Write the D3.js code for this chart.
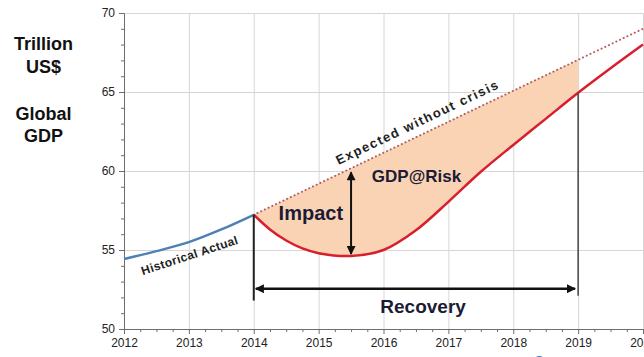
<!DOCTYPE html>
<html>
<head>
<meta charset="utf-8">
<script src="https://cdn.jsdelivr.net/npm/d3@7/dist/d3.min.js"></script>
<style>
  html, body { margin: 0; padding: 0; background: #fff; }
  svg { display: block; font-family: "Liberation Sans", Arial, sans-serif; }
</style>
</head>
<body>
<svg id="chart" width="644" height="357"></svg>
<script>
// ---- data (trillion US$) ----
const years = [2012, 2013, 2014, 2015, 2016, 2017, 2018, 2019, 2020];
const yTicks = [50, 55, 60, 65, 70];

const historicalYears  = [2012, 2012.5, 2013, 2013.5, 2014];
const historicalValues = [54.43, 54.93, 55.5, 56.3, 57.23];

const expectedYears  = [2014, 2020];
const expectedValues = [57.23, 69.0];

const crisisYears  = [2014, 2014.25, 2014.5, 2014.75, 2015, 2015.5, 2016, 2016.5, 2017, 2017.5, 2018, 2018.5, 2019, 2019.5, 2020];
const crisisValues = [57.23, 56.3, 55.6, 55.1, 54.8, 54.62, 55.0, 56.25, 58.05, 59.95, 61.65, 63.3, 64.95, 66.5, 68.0];

const crisisStart = 2014, recoveryEnd = 2019, troughYear = 2015.5;

// ---- layout ----
const svg = d3.select("#chart");
const x = d3.scaleLinear().domain([2012, 2020]).range([124, 643]);
const y = d3.scaleLinear().domain([50, 70]).range([329, 13]);

const zip = (xs, vs) => xs.map((d, i) => ({ x: d, v: vs[i] }));
const historical = zip(historicalYears, historicalValues);
const expected = zip(expectedYears, expectedValues);
const crisis = zip(crisisYears, crisisValues);
const expectedAt = yr => d3.scaleLinear().domain(expectedYears).range(expectedValues)(yr);
const crisisAt = yr => crisisValues[crisisYears.indexOf(yr)];

// ---- grid ----
const grid = svg.append("g").attr("stroke", "#d6d6d6").attr("stroke-width", 1);
grid.selectAll("line.v").data(years.slice(1)).join("line")
  .attr("x1", d => x(d) + 0.5).attr("x2", d => x(d) + 0.5)
  .attr("y1", y(70)).attr("y2", y(50));
grid.selectAll("line.h").data(yTicks.slice(1)).join("line")
  .attr("x1", x(2012)).attr("x2", 644)
  .attr("y1", d => y(d) + 0.5).attr("y2", d => y(d) + 0.5);

// ---- GDP@Risk area between expected path and crisis path ----
svg.append("clipPath").attr("id", "riskClip")
  .append("rect")
  .attr("x", x(crisisStart)).attr("width", x(recoveryEnd) - x(crisisStart))
  .attr("y", 0).attr("height", 357);

const curve = d3.curveCatmullRom.alpha(0.5);

svg.append("path")
  .datum(crisis)
  .attr("clip-path", "url(#riskClip)")
  .attr("fill", "#fad3b5")
  .attr("d", d3.area().curve(curve)
    .x(d => x(d.x)).y0(d => y(d.v)).y1(d => y(expectedAt(d.x))));

// ---- axes ----
const xAxis = d3.axisBottom(x).tickValues(years).tickFormat(d3.format("d")).tickSize(5).tickPadding(4);
const gx = svg.append("g").attr("transform", `translate(0,${y(50)})`).call(xAxis);
gx.select(".domain").attr("stroke", "#6e6e6e");
gx.selectAll(".tick line").attr("stroke", "#6e6e6e");
gx.selectAll("text").attr("font-size", 12).attr("fill", "#222");

const xMinor = d3.range(2012, 2020.01, 0.25).filter(d => d % 1 !== 0);
gx.selectAll("line.minor").data(xMinor).join("line")
  .attr("stroke", "#6e6e6e")
  .attr("x1", d => x(d) + 0.5).attr("x2", d => x(d) + 0.5)
  .attr("y1", 0).attr("y2", 3);

const yAxis = d3.axisLeft(y).tickValues(yTicks).tickSize(5).tickPadding(4);
const gy = svg.append("g").attr("transform", `translate(${x(2012)},0)`).call(yAxis);
gy.select(".domain").attr("stroke", "#6e6e6e");
gy.selectAll(".tick line").attr("stroke", "#6e6e6e");
gy.selectAll("text").attr("font-size", 12).attr("fill", "#222");
const yMinor = d3.range(50, 70, 1).filter(d => d % 5 !== 0);
gy.selectAll("line.minor").data(yMinor).join("line")
  .attr("stroke", "#6e6e6e")
  .attr("x1", -3).attr("x2", 0)
  .attr("y1", d => y(d) + 0.5).attr("y2", d => y(d) + 0.5);

// ---- lines ----
const line = d3.line().curve(curve).x(d => x(d.x)).y(d => y(d.v));

svg.append("path").datum(expected)
  .attr("fill", "none").attr("stroke", "#b35f5f").attr("stroke-width", 2)
  .attr("stroke-linecap", "round").attr("stroke-dasharray", "0.1,4")
  .attr("d", line);

svg.append("path").datum(historical)
  .attr("fill", "none").attr("stroke", "#4f80b4").attr("stroke-width", 2.5)
  .attr("d", line);

svg.append("path").datum(crisis)
  .attr("fill", "none").attr("stroke", "#d81f2e").attr("stroke-width", 2.5)
  .attr("d", line);

// ---- annotation arrows ----
const defs = svg.append("defs");
defs.append("marker").attr("id", "head")
  .attr("viewBox", "0 0 10 10").attr("refX", 9).attr("refY", 5)
  .attr("markerUnits", "userSpaceOnUse").attr("markerWidth", 11).attr("markerHeight", 9)
  .attr("orient", "auto-start-reverse")
  .append("path").attr("d", "M0,0 L10,5 L0,10 Z").attr("fill", "#111");

const ann = svg.append("g").attr("stroke", "#222");
// crisis start and recovery end markers
ann.append("line").attr("stroke-width", 2)
  .attr("x1", x(crisisStart)).attr("x2", x(crisisStart))
  .attr("y1", y(crisisAt(crisisStart))).attr("y2", y(51.8));
ann.append("line").attr("stroke-width", 1.5).attr("stroke", "#444")
  .attr("x1", x(recoveryEnd)).attr("x2", x(recoveryEnd))
  .attr("y1", y(crisisAt(recoveryEnd))).attr("y2", y(52.1));
// recovery span
ann.append("line").attr("stroke-width", 2.5).attr("stroke", "#111")
  .attr("x1", x(crisisStart) + 2).attr("x2", x(recoveryEnd) - 3)
  .attr("y1", y(52.55)).attr("y2", y(52.55))
  .attr("marker-start", "url(#head)").attr("marker-end", "url(#head)");
// impact depth
ann.append("line").attr("stroke-width", 2).attr("stroke", "#111")
  .attr("x1", x(troughYear)).attr("x2", x(troughYear))
  .attr("y1", y(expectedAt(troughYear)) + 4).attr("y2", y(crisisAt(troughYear)) - 2)
  .attr("marker-start", "url(#head)").attr("marker-end", "url(#head)");

// ---- labels ----
const ink = "#1b1b35";
const label = (t, xv, yv, size, anchor, weight) => svg.append("text")
  .attr("x", x(xv)).attr("y", y(yv)).attr("font-size", size)
  .attr("font-weight", weight || "bold").attr("fill", ink)
  .attr("text-anchor", anchor).text(t);

label("Impact", 2014.88, 56.93, 20, "middle");
label("GDP@Risk", 2015.82, 59.28, 17, "start");
label("Recovery", 2016.61, 51.03, 19, "middle");

// rotated labels along their lines
const expAngle = Math.atan2(y(expectedValues[1]) - y(expectedValues[0]), x(expectedYears[1]) - x(expectedYears[0])) * 180 / Math.PI;
const expMid = 2016.6;
svg.append("text")
  .attr("transform", `translate(${x(expMid)},${y(expectedAt(expMid))}) rotate(${expAngle})`)
  .attr("y", -8.5).attr("text-anchor", "middle")
  .attr("font-size", 13).attr("font-weight", "bold").attr("fill", "#222")
  .attr("textLength", 178).attr("lengthAdjust", "spacing")
  .text("Expected without crisis");

const histMid = 2012.95;
svg.append("text")
  .attr("transform", `translate(${x(histMid)},${y(55.4)}) rotate(-18.2)`)
  .attr("y", 16.5).attr("text-anchor", "middle")
  .attr("font-size", 12).attr("font-weight", "bold").attr("fill", "#222")
  .attr("textLength", 101).attr("lengthAdjust", "spacing")
  .text("Historical Actual");

// left-hand unit labels
const side = svg.append("g").attr("font-size", 18).attr("font-weight", "bold")
  .attr("fill", "#111").attr("text-anchor", "middle");
[["Trillion", 50], ["US$", 73], ["Global", 120], ["GDP", 142]].forEach(([t, b]) =>
  side.append("text").attr("x", 43.5).attr("y", b).text(t));

// small marker peeking in at the bottom edge
svg.append("circle").attr("cx", x(2018.4)).attr("cy", 362).attr("r", 6).attr("fill", "#3d7cc9");
</script>
</body>
</html>
